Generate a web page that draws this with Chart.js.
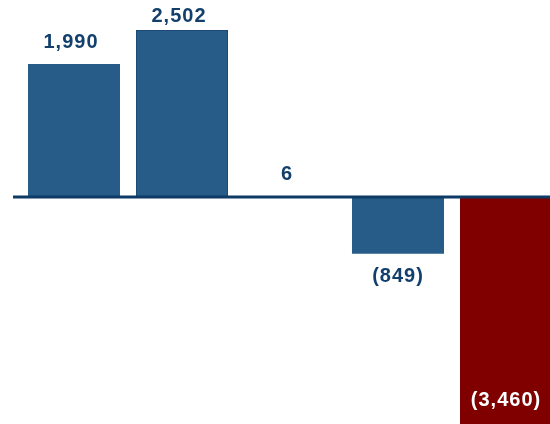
<!DOCTYPE html>
<html>
<head>
<meta charset="utf-8">
<script src="https://cdn.jsdelivr.net/npm/chart.js@4"></script>
<style>
  html, body { margin: 0; padding: 0; background: #fff; overflow: hidden; }
  #wrap { width: 560px; height: 424px; }
</style>
</head>
<body>
<div id="wrap"><canvas id="barChart" width="560" height="424"></canvas></div>
<script>
const categories = ['A', 'B', 'C', 'D', 'E']
const values = [1990, 2502, 6, -849, -3460]
const valueLabels = ['1,990', '2,502', '6', '(849)', '(3,460)']
const barColors = ['#275c89', '#275c89', '#275c89', '#275c89', '#800000']
const borderColors = ['#275c89', '#1c4a75', '#275c89', '#275c89', '#800000']
const borderWidths = [0, 1, 0, 0, 0]

const barChart = document.getElementById('barChart')

// zero line + value labels
const extras = {
  id: 'extras',
  afterDatasetsDraw(chart) {
    const ctx = chart.ctx
    const y0 = chart.scales.y.getPixelForValue(0)
    ctx.save()
    ctx.strokeStyle = '#0e3a66'
    ctx.lineWidth = 3
    ctx.beginPath()
    ctx.moveTo(13, y0)
    ctx.lineTo(chart.width, y0)
    ctx.stroke()

    ctx.font = 'bold 20px "Liberation Sans", Arial, sans-serif'
    ctx.letterSpacing = '1px'
    ctx.textAlign = 'center'
    ctx.textBaseline = 'middle'
    const meta = chart.getDatasetMeta(0)
    meta.data.forEach((bar, i) => {
      const v = values[i]
      let x = bar.x - 3
      let y
      if (i === values.length - 1) {
        ctx.fillStyle = '#ffffff'
        y = chart.chartArea.bottom - 24
        x = bar.x
      } else if (v >= 0) {
        ctx.fillStyle = '#123f6b'
        y = Math.max(bar.y - 22, 16)
      } else {
        ctx.fillStyle = '#123f6b'
        y = bar.y + 23
        x = bar.x
      }
      ctx.fillText(valueLabels[i], x, y)
    })
    ctx.restore()
  }
}

new Chart(barChart, {
  type: 'bar',
  data: {
    labels: categories,
    datasets: [{
      data: values,
      backgroundColor: barColors,
      borderColor: borderColors,
      borderWidth: borderWidths,
      categoryPercentage: 1,
      barPercentage: 0.852
    }]
  },
  options: {
    responsive: false,
    animation: false,
    layout: { padding: { left: 20, right: 0, top: 0, bottom: 0 } },
    plugins: { legend: { display: false }, tooltip: { enabled: false } },
    scales: {
      x: { display: false, offset: true },
      y: { display: false, min: -3400, max: 2950 }
    }
  },
  plugins: [extras]
})
</script>
</body>
</html>
